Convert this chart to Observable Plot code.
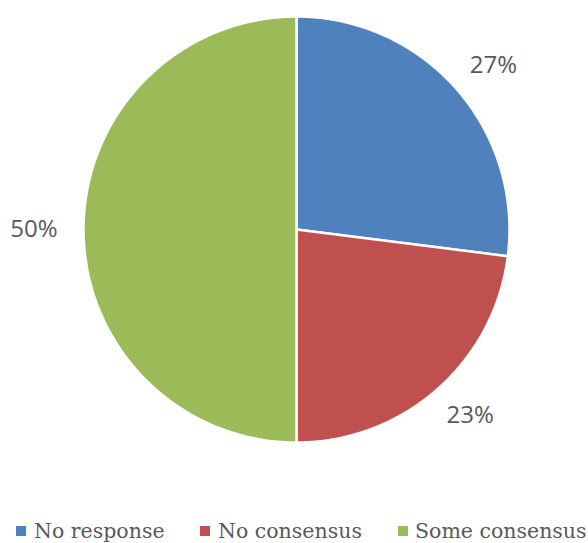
<!DOCTYPE html>
<html>
<head>
<meta charset="utf-8">
<script src="https://cdn.jsdelivr.net/npm/d3@7"></script>
<script src="https://cdn.jsdelivr.net/npm/@observablehq/plot@0.6"></script>
<style>
  html, body { margin: 0; padding: 0; background: #fff; }
  #chart { width: 588px; }
  .legend { position: relative; width: 588px; height: 73px; font-family: "DejaVu Serif", serif; font-size: 20.5px; color: #595959; }
  .legend .sw { position: absolute; width: 10px; height: 10px; top: 56px; }
  .legend .tx { position: absolute; top: 61px; transform: translateY(-50%); white-space: nowrap; line-height: 1; }
</style>
</head>
<body>
<div id="chart"></div>
<script>
const categories = ["No response", "No consensus", "Some consensus"];
const values = [27, 23, 50];
const labels = ["27%", "23%", "50%"];
const colors = ["#4F81BD", "#C0504D", "#9BBB59"];

const W = 588, H = 470;
const cx = 296, cy = 229, R = 213;

// pie angles from data (clockwise from 12 o'clock)
const pie = d3.pie().sort(null).value(d => d.value)(categories.map((c, i) => ({cat: c, value: values[i], label: labels[i], color: colors[i]})));

const pts = [];
for (const a of pie) {
  const n = Math.max(2, Math.ceil((a.endAngle - a.startAngle) / (Math.PI / 360)));
  pts.push({key: a.data.cat, x: 0, y: 0});
  for (let k = 0; k <= n; k++) {
    const t = a.startAngle + (a.endAngle - a.startAngle) * k / n;
    pts.push({key: a.data.cat, x: Math.sin(t), y: Math.cos(t)});
  }
  pts.push({key: a.data.cat, x: 0, y: 0});
}
// label boxes placed just outside the rim (box half-size offsets in pie units)
const boxW = 48 / R, boxH = 18 / R, k = 1.12;
const lab = pie.map(a => {
  const m = (a.startAngle + a.endAngle) / 2;
  const s = Math.sin(m), c = Math.cos(m);
  return {text: a.data.label, x: k * s + boxW / 2 * s, y: k * c + boxH / 2 * c};
});

const plot = Plot.plot({
  width: W, height: H,
  margin: 0,
  x: {domain: [-cx / R, (W - cx) / R], axis: null},
  y: {domain: [(cy - H) / R, cy / R], axis: null},
  style: {background: "#fff"},
  marks: [
    ...pie.map(a => Plot.line(pts.filter(p => p.key === a.data.cat), {x: "x", y: "y", fill: a.data.color, stroke: "#fff", strokeWidth: 2.5, strokeLinejoin: "miter"})),
    Plot.text(lab, {x: "x", y: "y", text: "text", fontSize: 24, fill: "#595959", fontFamily: "'Open Sans', 'DejaVu Sans', sans-serif"})
  ]
});
document.getElementById("chart").appendChild(plot);

const swX = [16, 200, 398], txX = [34, 218, 415];
const leg = document.createElement("div");
leg.className = "legend";
categories.forEach((c, i) => {
  const sw = document.createElement("span");
  sw.className = "sw";
  sw.style.left = swX[i] + "px";
  sw.style.background = colors[i];
  const tx = document.createElement("span");
  tx.className = "tx";
  tx.style.left = txX[i] + "px";
  tx.textContent = c;
  leg.appendChild(sw);
  leg.appendChild(tx);
});
document.getElementById("chart").appendChild(leg);
</script>
</body>
</html>
